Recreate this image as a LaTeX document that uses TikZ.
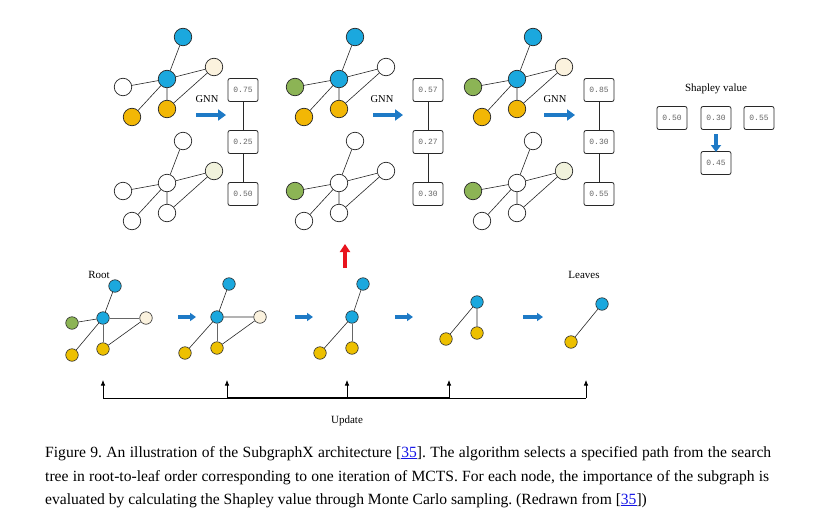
\documentclass[tikz,border=0pt]{standalone}
\usepackage{fontspec}
\setmainfont{Liberation Serif}
\newfontfamily\monofnt{Liberation Mono}
\usetikzlibrary{arrows.meta}
\frenchspacing
\definecolor{cyn}{RGB}{27,168,222}
\definecolor{org}{RGB}{242,183,5}
\definecolor{yel}{RGB}{237,192,0}
\definecolor{bge}{RGB}{251,242,222}
\definecolor{bgg}{RGB}{241,242,220}
\definecolor{grn}{RGB}{140,180,85}
\definecolor{ablue}{RGB}{30,122,198}
\definecolor{ared}{RGB}{232,20,30}
\definecolor{lnk}{RGB}{20,20,230}
\definecolor{edg}{RGB}{40,40,40}
\tikzset{
  gn/.style={circle,draw=edg,line width=0.7pt,minimum size=17.5pt,inner sep=0pt},
  sn/.style={circle,draw=edg,line width=0.6pt,minimum size=12.5pt,inner sep=0pt},
  edge/.style={draw=edg,line width=0.6pt},
  vbox/.style={draw=edg,rounded corners=2pt,line width=0.8pt,minimum width=30pt,minimum height=23pt,inner sep=0pt,font=\monofnt\fontsize{8}{8}\selectfont,text=black!60},
  bigarrow/.style={-{Triangle[length=8pt,width=11pt]},line width=4.5pt,ablue},
  smallarrow/.style={-{Triangle[length=6pt,width=8pt]},line width=3.5pt,ablue},
  redarrow/.style={-{Triangle[length=8pt,width=10pt]},line width=4.5pt,ared},
  uparrow/.style={-{Latex[length=5.5pt,width=4.5pt]},line width=0.7pt,black},
  lbl/.style={font=\fontsize{11}{11}\selectfont,inner sep=0pt},
  captxt/.style={font=\fontsize{15.6}{15.6}\selectfont,inner sep=0pt,anchor=base west}
}
\newcommand{\gsix}[9]{%
  \node[gn,fill=#4] (#1c) at (#2,#3) {};
  \node[gn,fill=#5] (#1t) at ({#2+16},{#3-42}) {};
  \node[gn,fill=#6] (#1r) at ({#2+47},{#3-12}) {};
  \node[gn,fill=#7] (#1l) at ({#2-44},{#3+8}) {};
  \node[gn,fill=#8] (#1bl) at ({#2-35},{#3+38}) {};
  \node[gn,fill=#9] (#1bm) at ({#2},{#3+30}) {};
  \draw[edge] (#1c)--(#1t) (#1c)--(#1r) (#1c)--(#1l) (#1c)--(#1bl) (#1c)--(#1bm) (#1bm)--(#1r);
}
\newcommand{\lk}{\textcolor{lnk}{\underline{35}}}
\begin{document}
\begin{tikzpicture}[x=1pt,y=-1pt]
\useasboundingbox (0,0) rectangle (822,514);
\fill[white] (0,0) rectangle (822,514);
% top graphs
\gsix{a}{167}{79}{cyn}{cyn}{bge}{white}{org}{org}
\gsix{b}{167}{183}{white}{white}{bgg}{white}{white}{white}
\gsix{c}{339}{79}{cyn}{cyn}{white}{grn}{org}{org}
\gsix{d}{339}{183}{white}{white}{white}{grn}{white}{white}
\gsix{e}{517}{79}{cyn}{cyn}{bge}{grn}{org}{org}
\gsix{f}{517}{183}{white}{white}{bgg}{grn}{white}{white}
% GNN labels and arrows
\node[font=\fontsize{10.5}{10.5}\selectfont,inner sep=0pt] (g1) at (207,99) {GNN};
\node[font=\fontsize{10.5}{10.5}\selectfont,inner sep=0pt] (g2) at (382,99) {GNN};
\node[font=\fontsize{10.5}{10.5}\selectfont,inner sep=0pt] (g3) at (555,99) {GNN};
\coordinate (ga1) at (196,115); \coordinate (gb1) at (226,115);
\coordinate (ga2) at (373,115); \coordinate (gb2) at (403,115);
\coordinate (ga3) at (544,115); \coordinate (gb3) at (575,115);
\draw[bigarrow] (ga1) -- (gb1);
\draw[bigarrow] (ga2) -- (gb2);
\draw[bigarrow] (ga3) -- (gb3);
% value boxes
\node[vbox] (v1a) at (243,90) {0.75};
\node[vbox] (v1b) at (243,142) {0.25};
\node[vbox] (v1c) at (243,194) {0.50};
\node[vbox] (v2a) at (428,90) {0.57};
\node[vbox] (v2b) at (428,142) {0.27};
\node[vbox] (v2c) at (428,194) {0.30};
\node[vbox] (v3a) at (599,90) {0.85};
\node[vbox] (v3b) at (599,142) {0.30};
\node[vbox] (v3c) at (599,194) {0.55};
\draw[edge,line width=0.8pt] (v1a)--(v1b) (v1b)--(v1c) (v2a)--(v2b) (v2b)--(v2c) (v3a)--(v3b) (v3b)--(v3c);
% Shapley
\node[lbl] (sh) at (716,89) {Shapley value};
\node[vbox] (s1) at (672,118) {0.50};
\node[vbox] (s2) at (716,118) {0.30};
\node[vbox] (s3) at (759,118) {0.55};
\node[vbox] (s4) at (716,163) {0.45};
\coordinate (sa) at (716,134); \coordinate (sb) at (716,152);
\draw[-{Triangle[length=7pt,width=10pt]},line width=4.5pt,ablue] (sa) -- (sb);
% red arrow
\coordinate (ra) at (345,268); \coordinate (rb) at (345,244);
\draw[redarrow] (ra) -- (rb);
% bottom row
\node[lbl] (root) at (99,275) {Root};
\node[lbl] (leaves) at (584,275) {Leaves};
% graph A
\node[sn,fill=cyn] (Ac) at (103,318) {};
\node[sn,fill=cyn] (At) at (115,286) {};
\node[sn,fill=bge] (Ar) at (146,318) {};
\node[sn,fill=grn] (Al) at (72,323) {};
\node[sn,fill=yel] (Abl) at (72,355) {};
\node[sn,fill=yel] (Abm) at (103,349) {};
\draw[edge] (Ac)--(At) (Ac)--(Al) (Ac)--(Abl) (Abm)--(Ar);
\draw[edge,draw=black!60,line width=1pt] (Ac)--(Ar) (Ac)--(Abm);
% graph B
\node[sn,fill=cyn] (Bc) at (217,317) {};
\node[sn,fill=cyn] (Bt) at (229,284) {};
\node[sn,fill=bge] (Br) at (260,317) {};
\node[sn,fill=yel] (Bbl) at (185,353) {};
\node[sn,fill=yel] (Bbm) at (217,348) {};
\draw[edge] (Bc)--(Bt) (Bc)--(Br) (Bc)--(Bbl) (Bbm)--(Br);
\draw[edge,draw=black!60,line width=1pt] (Bc)--(Bbm);
% graph C
\node[sn,fill=cyn] (Cc) at (352,317) {};
\node[sn,fill=cyn] (Ct) at (363,284) {};
\node[sn,fill=yel] (Cbl) at (320,353) {};
\node[sn,fill=yel] (Cbm) at (352,348) {};
\draw[edge] (Cc)--(Ct) (Cc)--(Cbl);
\draw[edge,draw=black!60,line width=1pt] (Cc)--(Cbm);
% graph D
\node[sn,fill=cyn] (Dt) at (477,302) {};
\node[sn,fill=yel] (Dbl) at (446,339) {};
\node[sn,fill=yel] (Dbm) at (477,333) {};
\draw[edge] (Dt)--(Dbl) (Dt)--(Dbm);
% graph E
\node[sn,fill=cyn] (Et) at (602,304) {};
\node[sn,fill=yel] (Ebl) at (571,342) {};
\draw[edge] (Et)--(Ebl);
% small arrows
\coordinate (p1) at (178,317); \coordinate (q1) at (196,317);
\coordinate (p2) at (295,317); \coordinate (q2) at (313,317);
\coordinate (p3) at (395,317); \coordinate (q3) at (413,317);
\coordinate (p4) at (523,317); \coordinate (q4) at (543,317);
\draw[smallarrow] (p1)--(q1);
\draw[smallarrow] (p2)--(q2);
\draw[smallarrow] (p3)--(q3);
\draw[smallarrow] (p4)--(q4);
% update
\coordinate (u1) at (103,398); \coordinate (u2) at (227,398); \coordinate (u3) at (347,398);
\coordinate (u4) at (449,398); \coordinate (u5) at (586,398);
\coordinate (w1) at (103,380); \coordinate (w2) at (227,380); \coordinate (w3) at (347,380);
\coordinate (w4) at (449,380); \coordinate (w5) at (586,380);
\draw[line width=0.7pt] (u1)--(u2) (u4)--(u5);
\draw[line width=1.2pt] (u2)--(u4);
\draw[uparrow] (u1)--(w1);
\draw[uparrow] (u2)--(w2);
\draw[uparrow] (u3)--(w3);
\draw[uparrow] (u4)--(w4);
\draw[uparrow] (u5)--(w5);
\node[lbl] (upd) at (347,421) {Update};
% caption
\node[captxt] (c1) at (45,457) {\makebox[726pt][s]{Figure 9. An illustration of the SubgraphX architecture [\lk]. The algorithm selects a specified path from the search}};
\node[captxt] (c2) at (45,481) {\makebox[724pt][s]{tree in root-to-leaf order corresponding to one iteration of MCTS. For each node, the importance of the subgraph is}};
\node[captxt] (c3) at (45,504) {evaluated by calculating the Shapley value through Monte Carlo sampling. (Redrawn from [\lk])};
\end{tikzpicture}
\end{document}
